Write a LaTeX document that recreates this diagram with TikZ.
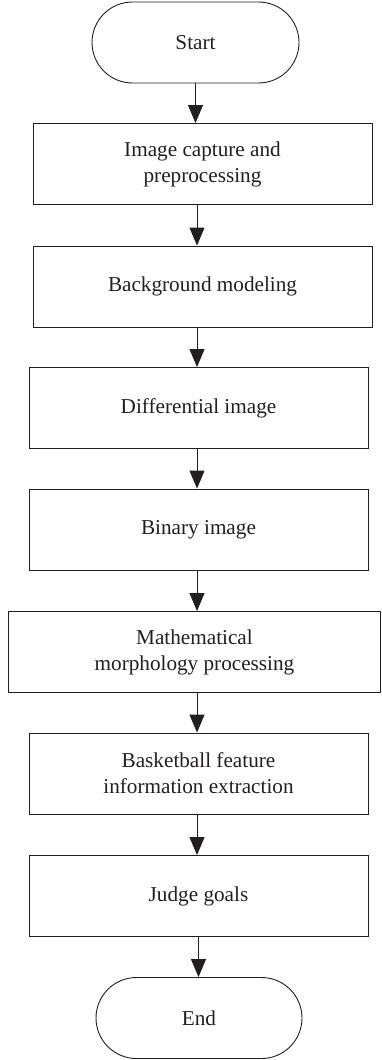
\documentclass[tikz,border=0pt]{standalone}
\usepackage{fontspec}
\setmainfont{Liberation Serif}
\usetikzlibrary{arrows.meta,shapes.misc}
\definecolor{ink}{HTML}{231F20}
\begin{document}
\begin{tikzpicture}[x=1pt,y=-1pt,
  every node/.style={font=\fontsize{21.2}{26}\selectfont, text=ink, align=center, inner sep=0pt},
  procbox/.style={draw=ink, line width=0.9pt, rectangle, minimum height=81pt},
  termbox/.style={draw=ink, line width=0.9pt, rounded rectangle, minimum height=81pt},
  arr/.style={draw=ink, line width=0.9pt, -{Triangle[width=15pt,length=18pt]}}]
\useasboundingbox (0,0) rectangle (382,1060);
\node[termbox, minimum width=207pt] (start) at (195.5,42.5) {Start};
\node[procbox, minimum width=339pt] (b1) at (202.5,164) {Image capture and\\preprocessing};
\node[procbox, minimum width=339pt] (b2) at (202.5,286.5) {Background modeling};
\node[procbox, minimum width=339pt] (b3) at (198.5,408) {Differential image};
\node[procbox, minimum width=339pt] (b4) at (198.5,529.5) {Binary image};
\node[procbox, minimum width=372pt] (b5) at (194.5,652) {Mathematical\\morphology processing};
\node[procbox, minimum width=339pt] (b6) at (198.5,773.5) {Basketball feature\\information extraction};
\node[procbox, minimum width=339pt] (b7) at (198.5,896) {Judge goals};
\node[termbox, minimum width=206pt] (end) at (199,1018) {End};
\coordinate (ax) at (197,0);
\coordinate (ax0) at (195.5,0);
\coordinate (ax8) at (198.5,0);
\draw[arr] (start.south -| ax0) -- (b1.north -| ax0);
\draw[arr] (b1.south -| ax) -- (b2.north -| ax);
\draw[arr] (b2.south -| ax) -- (b3.north -| ax);
\draw[arr] (b3.south -| ax) -- (b4.north -| ax);
\draw[arr] (b4.south -| ax) -- (b5.north -| ax);
\draw[arr] (b5.south -| ax) -- (b6.north -| ax);
\draw[arr] (b6.south -| ax) -- (b7.north -| ax);
\draw[arr] (b7.south -| ax8) -- (end.north -| ax8);
\end{tikzpicture}
\end{document}
